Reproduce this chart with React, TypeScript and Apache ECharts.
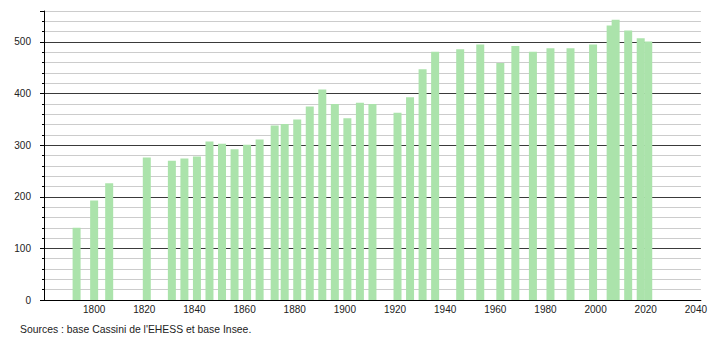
import React, { useEffect, useRef } from "react";
import * as echarts from "echarts";

const years = [1793, 1800, 1806, 1821, 1831, 1836, 1841, 1846, 1851, 1856, 1861, 1866, 1872, 1876, 1881, 1886, 1891, 1896, 1901, 1906, 1911, 1921, 1926, 1931, 1936, 1946, 1954, 1962, 1968, 1975, 1982, 1990, 1999, 2006, 2008, 2013, 2018, 2021];
const population = [140, 193, 226, 276, 270, 274, 278, 307, 303, 292, 301, 311, 338, 341, 350, 375, 408, 380, 352, 382, 380, 363, 393, 447, 481, 486, 495, 459, 492, 481, 488, 488, 495, 532, 543, 522, 507, 501];
const xMin = 1780;
const xMax = 2042;
const yMin = 0;
const yMax = 560;
const sourceText = "Sources : base Cassini de l'EHESS et base Insee.";

const FONT = "Liberation Sans, Arial, sans-serif";

export default function App() {
  const ref = useRef<HTMLDivElement>(null);
  useEffect(() => {
    document.body.style.margin = "0";
    const chart = echarts.init(ref.current!, null, { renderer: "svg" });
    const minorStep = 20;
    const splitColors: string[] = [];
    for (let v = yMin; v <= yMax; v += minorStep) {
      splitColors.push(v % 100 === 0 ? "#3a3a3a" : "#cccccc");
    }
    chart.setOption({
      animation: false,
      textStyle: { fontFamily: FONT },
      grid: { left: 44, right: 9, top: 11, bottom: 40, containLabel: false },
      xAxis: {
        type: "value",
        min: xMin,
        max: xMax,
        interval: 20,
        axisLine: { show: true, lineStyle: { color: "#000", width: 1 } },
        axisTick: { show: false },
        splitLine: { show: false },
        axisLabel: {
          color: "#222",
          fontSize: 10,
          fontFamily: FONT,
          margin: 4,
          formatter: (v: number) => (v % 20 === 0 && v !== xMin ? String(v) : ""),
        },
      },
      yAxis: [
        {
          type: "value",
          min: yMin,
          max: yMax,
          interval: minorStep,
          axisLine: { show: true, lineStyle: { color: "#000", width: 1 } },
          axisTick: { show: true, length: 2, lineStyle: { color: "#000" } },
          splitLine: { show: true, lineStyle: { color: splitColors, width: 1 } },
          axisLabel: {
            color: "#222",
            fontSize: 10,
            fontFamily: FONT,
            margin: 13,
            formatter: (v: number) => (v % 100 === 0 ? String(v) : ""),
          },
        },
        {
          type: "value",
          min: yMin,
          max: yMax,
          interval: 100,
          position: "left",
          axisLine: { show: false },
          axisTick: { show: true, length: 4, lineStyle: { color: "#000" } },
          splitLine: { show: false },
          axisLabel: { show: false },
        },
      ],
      series: [
        {
          type: "bar",
          yAxisIndex: 0,
          barWidth: 8,
          itemStyle: { color: "#abe3ab" },
          data: years.map((y, i) => [y, population[i]]),
        },
      ],
      graphic: [
        {
          type: "text",
          left: 20,
          top: 324,
          style: { text: sourceText, fontSize: 10.4, fontFamily: FONT, fill: "#222" },
        },
      ],
    });
    return () => chart.dispose();
  }, []);
  return <div ref={ref} style={{ width: 710, height: 340 }} />;
}
